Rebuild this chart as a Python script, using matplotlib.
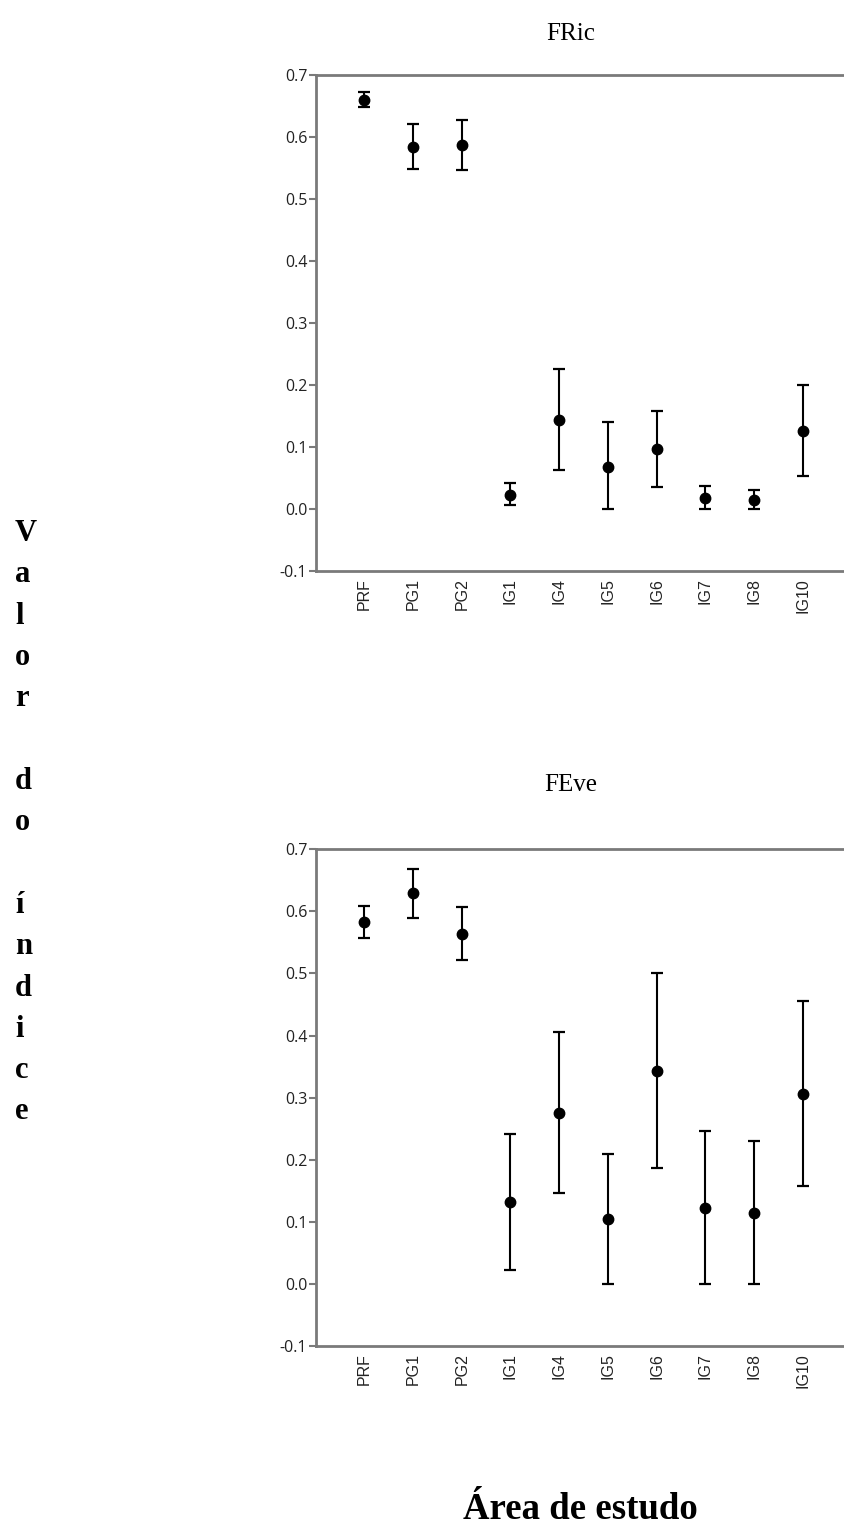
import numpy as np
import matplotlib
matplotlib.use('Agg')
import matplotlib.pyplot as plt

# study areas
areas = ['PRF', 'PG1', 'PG2', 'IG1', 'IG4', 'IG5', 'IG6', 'IG7', 'IG8', 'IG10']

# FRic: mean, lower and upper limit
fric_mean = np.array([0.660, 0.584, 0.587, 0.023, 0.144, 0.069, 0.097, 0.018, 0.015, 0.127])
fric_low = np.array([0.648, 0.548, 0.547, 0.007, 0.063, 0.000, 0.036, 0.000, 0.000, 0.054])
fric_high = np.array([0.672, 0.621, 0.627, 0.042, 0.226, 0.141, 0.158, 0.038, 0.032, 0.200])

# FEve: mean, lower and upper limit
feve_mean = np.array([0.583, 0.629, 0.563, 0.132, 0.276, 0.104, 0.343, 0.122, 0.114, 0.306])
feve_low = np.array([0.557, 0.589, 0.521, 0.023, 0.147, 0.000, 0.187, 0.000, 0.000, 0.157])
feve_high = np.array([0.609, 0.669, 0.607, 0.241, 0.405, 0.209, 0.500, 0.247, 0.230, 0.456])

yticks = [-0.1, 0.0, 0.1, 0.2, 0.3, 0.4, 0.5, 0.6, 0.7]

W, H = 845, 1534
fig = plt.figure(figsize=(W/100, H/100), dpi=100)
spine_col = '#7a7a7a'

def panel(rect, mean, low, high, title, title_y):
    ax = fig.add_axes(rect)
    x = np.arange(1, len(areas) + 1)
    ax.errorbar(x, mean, yerr=[mean - low, high - mean], fmt='o', color='black',
                markersize=7.5, elinewidth=1.5, capsize=4.5, capthick=1.6)
    ax.set_xlim(0, 10.87)
    ax.set_ylim(-0.1, 0.7)
    ax.set_yticks(yticks)
    ax.set_yticklabels(['%.1f' % v for v in yticks], fontsize=11.5, family='Open Sans', color='#222222')
    ax.set_xticks(x)
    ax.set_xticklabels(areas, rotation=90, fontsize=11.5, family='Liberation Sans', color='#222222')
    ax.tick_params(axis='x', length=0, pad=5)
    ax.tick_params(axis='y', length=5, width=1.5, color=spine_col, pad=1)
    for s in ['left', 'top', 'bottom']:
        ax.spines[s].set_color(spine_col)
        ax.spines[s].set_linewidth(2)
    ax.spines['right'].set_visible(False)
    fig.text(571/W, title_y, title, ha='center', va='baseline', fontsize=18,
             family='Liberation Serif')
    return ax

panel([315.7/W, 1 - 571.5/H, 1 - 315.7/W, (571.5 - 74.7)/H], fric_mean, fric_low, fric_high,
      'FRic', 1 - 40/H)
panel([315.7/W, 1 - 1346/H, 1 - 315.7/W, (1346 - 849.3)/H], feve_mean, feve_low, feve_high,
      'FEve', 1 - 791/H)

ylab = '\n'.join(list('Valor do índice'))
fig.text(15/W, 1 - 519/H, ylab, ha='left', va='top', fontsize=22, fontweight='bold',
         family='Liberation Serif', linespacing=1.56)
fig.text(580/W, 1 - 1519/H, 'Área de estudo', ha='center', va='baseline', fontsize=26.5,
         fontweight='bold', family='Liberation Serif')

fig.savefig('out.png', dpi=100)
